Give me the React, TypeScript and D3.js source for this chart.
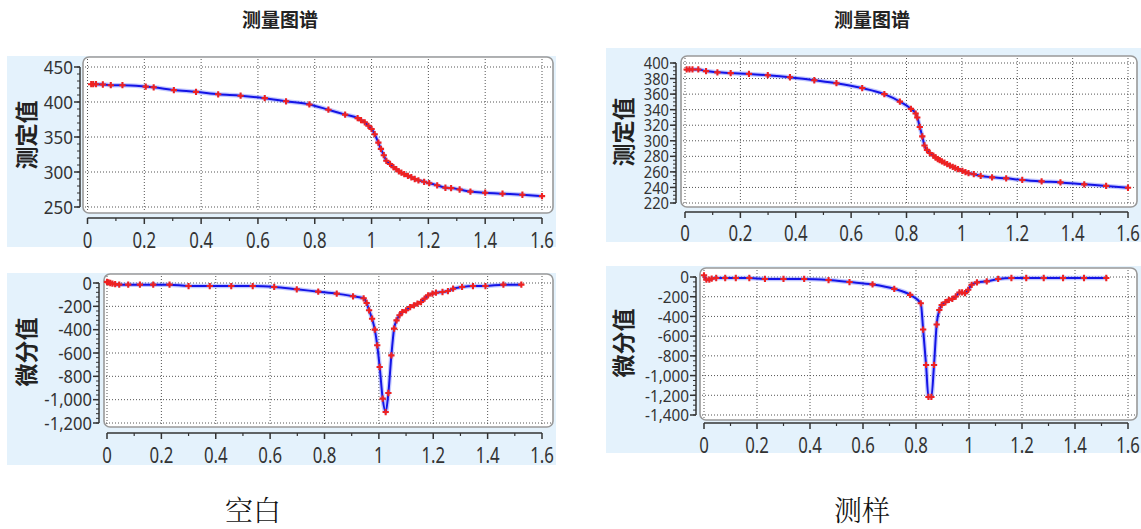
import React, { useEffect, useRef } from 'react';
import * as d3 from 'd3';

// 横轴刻度
const xTicks = [0, 0.2, 0.4, 0.6, 0.8, 1, 1.2, 1.4, 1.6];
const xTickLabels = ['0', '0.2', '0.4', '0.6', '0.8', '1', '1.2', '1.4', '1.6'];

// 空白 - 测定值
const blankMeasuredTicks = [450, 400, 350, 300, 250];
const blankMeasuredLabels = ['450', '400', '350', '300', '250'];
const blankMeasured: [number, number][] = [
  [0.013, 425.4], [0.02, 425.4], [0.03, 425.4], [0.054, 425], [0.082, 424], [0.123, 424],
  [0.205, 422], [0.233, 421], [0.304, 417], [0.382, 414.5], [0.46, 411], [0.539, 409],
  [0.624, 405.5], [0.699, 401], [0.781, 396.5], [0.848, 389], [0.907, 382], [0.951, 377],
  [0.963, 374], [0.976, 371], [0.989, 366], [1.0, 361.5], [1.011, 354], [1.024, 342],
  [1.033, 333], [1.043, 324], [1.052, 316], [1.065, 311.5], [1.077, 307], [1.087, 304],
  [1.096, 301], [1.105, 299], [1.115, 297], [1.128, 294.5], [1.14, 292.5], [1.152, 290],
  [1.165, 288], [1.185, 286], [1.203, 284], [1.231, 281], [1.26, 277.5], [1.28, 277],
  [1.31, 275], [1.348, 272], [1.4, 270.4], [1.461, 269], [1.531, 267.5], [1.6, 265.6]
];

// 空白 - 微分值
const blankDerivTicks = [0, -200, -400, -600, -800, -1000, -1200];
const blankDerivLabels = ['0', '-200', '-400', '-600', '-800', '-1,000', '-1,200'];
const blankDeriv: [number, number][] = [
  [0, 10], [0.005, 5], [0.012, 0], [0.02, -5], [0.03, -10], [0.045, -14], [0.078, -14],
  [0.121, -14], [0.17, -14], [0.23, -14], [0.3, -26], [0.378, -26], [0.457, -26], [0.536, -26],
  [0.615, -34], [0.698, -54], [0.777, -74], [0.845, -91], [0.905, -114], [0.944, -131],
  [0.955, -171], [0.964, -234], [0.975, -306], [0.985, -400], [0.994, -534], [1.003, -720],
  [1.014, -991], [1.025, -1106], [1.035, -943], [1.046, -620], [1.056, -391], [1.065, -320],
  [1.076, -277], [1.086, -249], [1.1, -234], [1.115, -206], [1.129, -191], [1.142, -177],
  [1.155, -163], [1.168, -134], [1.181, -106], [1.197, -91], [1.21, -83], [1.234, -77],
  [1.254, -69], [1.273, -49], [1.306, -34], [1.346, -26], [1.392, -26], [1.458, -14], [1.524, -14]
];

// 测样 - 测定值
const sampleMeasuredTicks = [400, 380, 360, 340, 320, 300, 280, 260, 240, 220];
const sampleMeasuredLabels = ['400', '380', '360', '340', '320', '300', '280', '260', '240', '220'];
const sampleMeasured: [number, number][] = [
  [0.006, 391.7], [0.016, 391.7], [0.027, 391.7], [0.048, 391.7], [0.076, 389.6], [0.117, 388],
  [0.165, 387], [0.231, 386], [0.299, 384.3], [0.379, 381.7], [0.467, 377.8], [0.547, 374],
  [0.64, 367.8], [0.72, 360], [0.776, 350.4], [0.816, 341], [0.833, 335], [0.839, 330],
  [0.848, 317.8], [0.857, 305.7], [0.865, 294], [0.874, 288.3], [0.884, 284.3], [0.897, 281],
  [0.905, 278.5], [0.913, 276.5], [0.92, 275], [0.928, 273.5], [0.937, 271.8], [0.947, 270],
  [0.957, 268], [0.967, 266.5], [0.976, 265], [0.986, 263.5], [1.002, 261.3], [1.013, 259.6],
  [1.024, 258.3], [1.043, 257], [1.068, 254.8], [1.109, 253], [1.16, 251.7], [1.218, 249.6],
  [1.288, 247.8], [1.356, 246.5], [1.442, 244], [1.521, 242], [1.6, 239.6]
];

// 测样 - 微分值
const sampleDerivTicks = [0, -200, -400, -600, -800, -1000, -1200, -1400];
const sampleDerivLabels = ['0', '-200', '-400', '-600', '-800', '-1,000', '-1,200', '-1,400'];
const sampleDeriv: [number, number][] = [
  [0, 17], [0.009, -27], [0.02, -27], [0.029, -17], [0.046, -10], [0.08, -10], [0.12, -10],
  [0.171, -10], [0.23, -20], [0.3, -20], [0.378, -20], [0.47, -31], [0.549, -51], [0.636, -75],
  [0.718, -120], [0.778, -181], [0.818, -267], [0.827, -533], [0.838, -892], [0.847, -1217],
  [0.858, -1217], [0.868, -892], [0.878, -482], [0.888, -335], [0.897, -284], [0.911, -256],
  [0.924, -232], [0.937, -222], [0.95, -198], [0.964, -157], [0.974, -157], [0.985, -164],
  [0.997, -130], [1.01, -79], [1.03, -55], [1.067, -44], [1.11, -20], [1.16, -10], [1.216, -10],
  [1.282, -10], [1.355, -10], [1.434, -10], [1.518, -10]
];

const numFont = "'Noto Sans', 'Liberation Sans', Arial, sans-serif";
const cjkFont = "'Noto Sans CJK SC', 'Noto Sans', sans-serif";

const charts = [
  {
    title: '测定值', data: blankMeasured, ticks: blankMeasuredTicks, labels: blankMeasuredLabels,
    domain: [250, 450], yRange: [207, 67], xRange: [87.5, 542], minor: 10,
    bg: [7, 56, 549, 191], box: [83, 57, 470, 156], axisX: 80, axisY: 218, labelY: 240,
    titleX: 25, titleY: 135, ySize: 18, ySx: 0.95
  },
  {
    title: '微分值', data: blankDeriv, ticks: blankDerivTicks, labels: blankDerivLabels,
    domain: [-1200, 0], yRange: [423, 283], xRange: [107, 542], minor: 40,
    bg: [7, 273, 549, 192], box: [104, 274, 449, 153], axisX: 99, axisY: 433, labelY: 455,
    titleX: 25, titleY: 352, ySize: 18, ySx: 0.92
  },
  {
    title: '测定值', data: sampleMeasured, ticks: sampleMeasuredTicks, labels: sampleMeasuredLabels,
    domain: [220, 400], yRange: [203, 63], xRange: [685, 1128], minor: 5,
    bg: [606, 48, 535, 194], box: [681, 56, 456, 151], axisX: 676, axisY: 212, labelY: 233,
    titleX: 622, titleY: 132, ySize: 15.5, ySx: 0.95
  },
  {
    title: '微分值', data: sampleDeriv, ticks: sampleDerivTicks, labels: sampleDerivLabels,
    domain: [-1400, 0], yRange: [415, 277], xRange: [704, 1128], minor: 50,
    bg: [606, 266, 535, 187], box: [700, 268, 437, 152], axisX: 696, axisY: 423, labelY: 445,
    titleX: 622, titleY: 343, ySize: 17, ySx: 0.9
  }
];

const App = () => {
  const svgRef = useRef<SVGSVGElement>(null);

  useEffect(() => {
    const svg = d3.select(svgRef.current);
    svg.selectAll('*').remove();

    charts.forEach(c => {
      const g = svg.append('g');
      const x = d3.scaleLinear().domain([0, 1.6]).range(c.xRange);
      const y = d3.scaleLinear().domain(c.domain).range(c.yRange);

      // light blue background
      g.append('rect')
        .attr('x', c.bg[0]).attr('y', c.bg[1])
        .attr('width', c.bg[2]).attr('height', c.bg[3])
        .attr('fill', '#e4f2fc');

      // plot box
      g.append('rect')
        .attr('x', c.box[0]).attr('y', c.box[1])
        .attr('width', c.box[2]).attr('height', c.box[3])
        .attr('rx', 6)
        .attr('fill', '#fff')
        .attr('stroke', '#999')
        .attr('stroke-width', 1.6);

      const boxTop = c.box[1] + 2;
      const boxBottom = c.box[1] + c.box[3] - 2;

      // grid
      g.selectAll('.vgrid').data(xTicks).enter().append('line')
        .attr('x1', d => x(d)).attr('x2', d => x(d))
        .attr('y1', boxTop).attr('y2', boxBottom)
        .attr('stroke', '#555').attr('stroke-width', 1)
        .attr('stroke-dasharray', '1,2');
      g.selectAll('.hgrid').data(c.ticks).enter().append('line')
        .attr('x1', c.box[0] + 2).attr('x2', c.box[0] + c.box[2] - 2)
        .attr('y1', d => y(d)).attr('y2', d => y(d))
        .attr('stroke', '#555').attr('stroke-width', 1)
        .attr('stroke-dasharray', '1,2');

      // y axis
      g.append('line')
        .attr('x1', c.axisX).attr('x2', c.axisX)
        .attr('y1', y(c.domain[1])).attr('y2', y(c.domain[0]))
        .attr('stroke', '#333').attr('stroke-width', 1.5);
      const minorY = d3.range(c.domain[0], c.domain[1] + 0.001, c.minor);
      g.selectAll('.ymin').data(minorY).enter().append('line')
        .attr('x1', c.axisX - 3).attr('x2', c.axisX)
        .attr('y1', d => y(d)).attr('y2', d => y(d))
        .attr('stroke', '#333').attr('stroke-width', 1);
      g.selectAll('.ymaj').data(c.ticks).enter().append('line')
        .attr('x1', c.axisX - 6).attr('x2', c.axisX)
        .attr('y1', d => y(d)).attr('y2', d => y(d))
        .attr('stroke', '#333').attr('stroke-width', 1.5);
      g.selectAll('.ylab').data(c.ticks).enter().append('text')
        .attr('transform', d => `translate(${c.axisX - 7},${y(d)}) scale(${c.ySx},1)`)
        .attr('text-anchor', 'end')
        .attr('dominant-baseline', 'central')
        .attr('font-family', numFont)
        .attr('font-size', c.ySize)
        .attr('fill', '#333')
        .text((d, i) => c.labels[i]);

      // x axis
      g.append('line')
        .attr('x1', x(0)).attr('x2', x(1.6))
        .attr('y1', c.axisY).attr('y2', c.axisY)
        .attr('stroke', '#333').attr('stroke-width', 1.5);
      const minorX = d3.range(0.1, 1.6, 0.2);
      g.selectAll('.xmin').data(minorX).enter().append('line')
        .attr('x1', d => x(d)).attr('x2', d => x(d))
        .attr('y1', c.axisY).attr('y2', c.axisY + 3)
        .attr('stroke', '#333').attr('stroke-width', 1.2);
      g.selectAll('.xmaj').data(xTicks).enter().append('line')
        .attr('x1', d => x(d)).attr('x2', d => x(d))
        .attr('y1', c.axisY).attr('y2', c.axisY + 6)
        .attr('stroke', '#333').attr('stroke-width', 1.5);
      g.selectAll('.xlab').data(xTicks).enter().append('text')
        .attr('transform', d => `translate(${x(d)},${c.labelY}) scale(0.8,1)`)
        .attr('text-anchor', 'middle')
        .attr('dominant-baseline', 'central')
        .attr('font-family', numFont)
        .attr('font-size', 21)
        .attr('fill', '#333')
        .text((d, i) => xTickLabels[i]);

      // axis title
      g.append('text')
        .attr('transform', `translate(${c.titleX},${c.titleY}) rotate(-90)`)
        .attr('text-anchor', 'middle')
        .attr('dominant-baseline', 'central')
        .attr('font-family', cjkFont)
        .attr('font-weight', 'bold')
        .attr('font-size', 23)
        .attr('fill', '#222')
        .text(c.title);

      // series
      const line = d3.line<[number, number]>()
        .x(d => x(d[0]))
        .y(d => y(d[1]))
        .curve(d3.curveMonotoneX);
      g.append('path')
        .attr('d', line(c.data))
        .attr('fill', 'none')
        .attr('stroke', '#7a86ff')
        .attr('stroke-opacity', 0.45)
        .attr('stroke-width', 4.5);
      g.append('path')
        .attr('d', line(c.data))
        .attr('fill', 'none')
        .attr('stroke', '#1414e6')
        .attr('stroke-width', 2);
      const sym = d3.symbol().type(d3.symbolCross).size(22);
      g.selectAll('.pt').data(c.data).enter().append('path')
        .attr('transform', d => `translate(${x(d[0])},${y(d[1])})`)
        .attr('d', sym())
        .attr('fill', '#ee2222');
    });

    // panel titles
    const titles: [number, string][] = [[280, '测量图谱'], [872, '测量图谱']];
    svg.selectAll('.ptitle').data(titles).enter().append('text')
      .attr('x', d => d[0]).attr('y', 27)
      .attr('text-anchor', 'middle')
      .attr('font-family', cjkFont)
      .attr('font-weight', 'bold')
      .attr('font-size', 19)
      .attr('fill', '#222')
      .text(d => d[1]);

    // captions
    const captions: [number, string][] = [[253, '空白'], [862, '测样']];
    svg.selectAll('.cap').data(captions).enter().append('text')
      .attr('x', d => d[0]).attr('y', 521)
      .attr('text-anchor', 'middle')
      .attr('font-family', "'Noto Serif CJK SC', 'Noto Sans CJK SC', serif")
      .attr('font-weight', 300)
      .attr('font-size', 28)
      .attr('fill', '#111')
      .text(d => d[1]);
  }, []);

  return (
    <div style={{ position: 'absolute', left: 0, top: 0 }}>
      <svg ref={svgRef} width={1141} height={529} style={{ display: 'block', background: '#fff' }} />
    </div>
  );
};

export default App;
